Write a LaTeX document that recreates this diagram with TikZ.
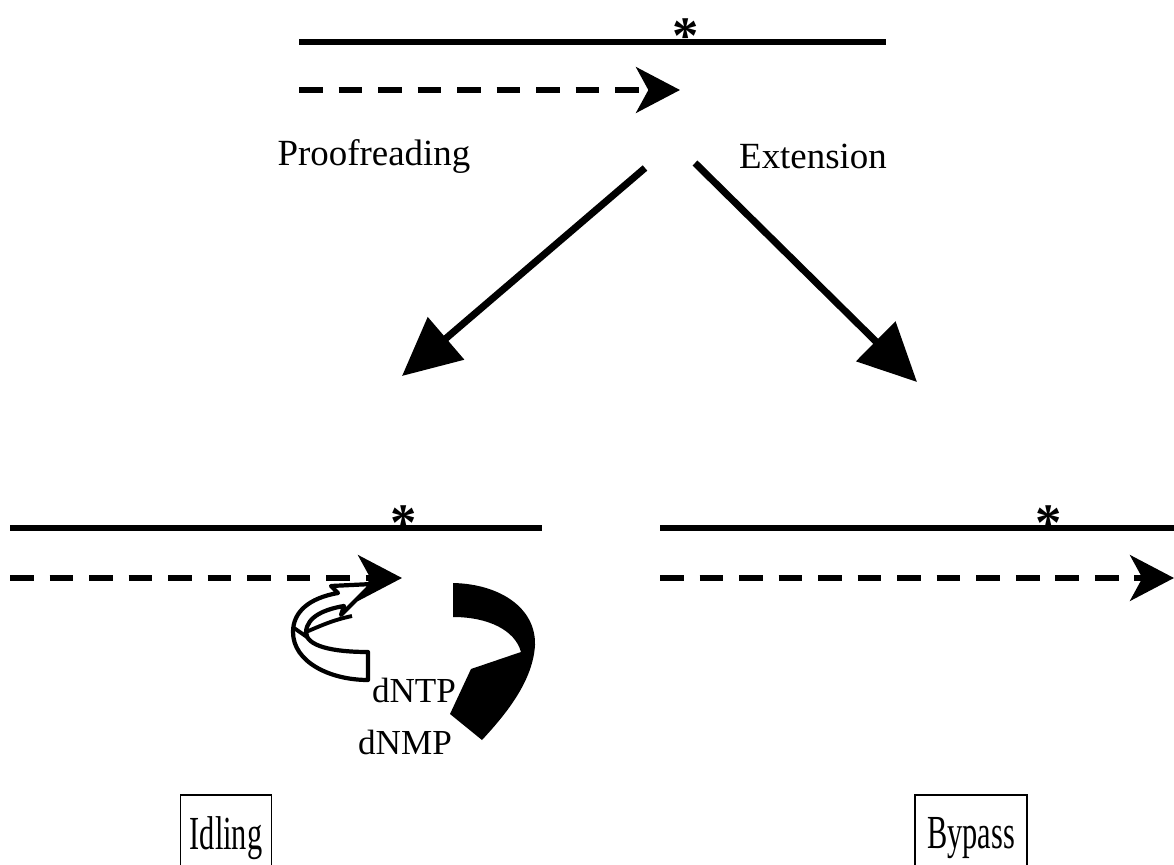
\documentclass[tikz,border=0pt]{standalone}
\usepackage{fontspec}
\usepackage{graphicx}
\setmainfont{Liberation Serif}
\usetikzlibrary{arrows.meta}
\tikzset{
  strand/.style={line width=3pt},
  primer/.style={line width=3.3pt, dash pattern=on 13.5pt off 9pt,
     -{Stealth[length=25pt,width=26pt,inset=7pt]}},
  bigarrow/.style={line width=4pt, -{Triangle[length=33pt,width=31pt]}},
  lbl/.style={font=\fontsize{21}{24}\selectfont, inner sep=0pt},
  small/.style={font=\fontsize{20}{24}\selectfont, inner sep=0pt},
  star/.style={font=\fontsize{30}{32}\selectfont\bfseries, inner sep=0pt, anchor=base},
  outcome/.style={draw, line width=1.1pt, font=\fontsize{27}{30}\selectfont,
     minimum width=1.82cm, minimum height=1.52cm, inner sep=0pt, text depth=0pt},
}
\newcommand{\narrow}[1]{\scalebox{0.64}[1]{#1}}
\begin{document}
\begin{tikzpicture}[x=0.02cm,y=-0.02cm]
\useasboundingbox (0,0) rectangle (1174,865);
\clip (0,0) rectangle (1174,865);
% top duplex
\coordinate (ta) at (299,42); \coordinate (tb) at (886,42);
\coordinate (pa) at (299,90); \coordinate (pb) at (680,90);
\draw[strand] (ta) -- (tb);
\draw[primer] (pa) -- (pb);
\node[star] (s1) at (686,54) {*};
% labels
\node[lbl] (proof) at (374,156) {Proofreading};
\node[lbl] (ext) at (813,156) {Extension};
% big arrows
\coordinate (la) at (645,168); \coordinate (lb) at (402,376);
\coordinate (ra) at (695,163); \coordinate (rb) at (917,382);
\draw[bigarrow] (la) -- (lb);
\draw[bigarrow] (ra) -- (rb);
% lower left duplex
\coordinate (lla) at (10,528); \coordinate (llb) at (542,528);
\coordinate (lpa) at (10,578); \coordinate (lpb) at (402,578);
\draw[strand] (lla) -- (llb);
\draw[primer] (lpa) -- (lpb);
\node[star] (s2) at (404,540) {*};
% lower right duplex
\coordinate (rla) at (660,528); \coordinate (rlb) at (1174,528);
\coordinate (rpa) at (660,578); \coordinate (rpb) at (1174,578);
\draw[strand] (rla) -- (rlb);
\draw[primer] (rpa) -- (rpb);
\node[star] (s3) at (1049,540) {*};
% black curved arrow (dNMP release)
\fill[black] (453,583) .. controls (500,584) and (536,608) .. (535,645)
  .. controls (533,680) and (508,712) .. (482,740) -- (450,714) -- (471,669)
  -- (521,652) .. controls (515,630) and (488,617) .. (453,617) -- cycle;
% white ribbon arrow (dNTP incorporation)
\draw[line width=2.4pt, fill=white, line join=round]
  (368,652) .. controls (332,652) and (306,646) .. (306,632)
  .. controls (307,616) and (326,609) .. (344,606)
  -- (341,615) -- (372,584) -- (331,586) -- (338,593)
  .. controls (309,598) and (293,612) .. (293,632)
  .. controls (293,662) and (330,680) .. (368,680) -- cycle;
\draw[line width=2.2pt] (294,628) -- (307,637);
\draw[line width=2.2pt] (306,632) .. controls (320,626) and (333,620) .. (352,616);
\node[small] (dntp) at (414,690) {dNTP};
\node[small] (dnmp) at (405,742) {dNMP};
% outcome boxes
\node[outcome] (idl) at (226,833) {\narrow{Idling}};
\node[outcome, minimum width=2.24cm] (byp) at (971,833) {\narrow{Bypass}};
\end{tikzpicture}
\end{document}
